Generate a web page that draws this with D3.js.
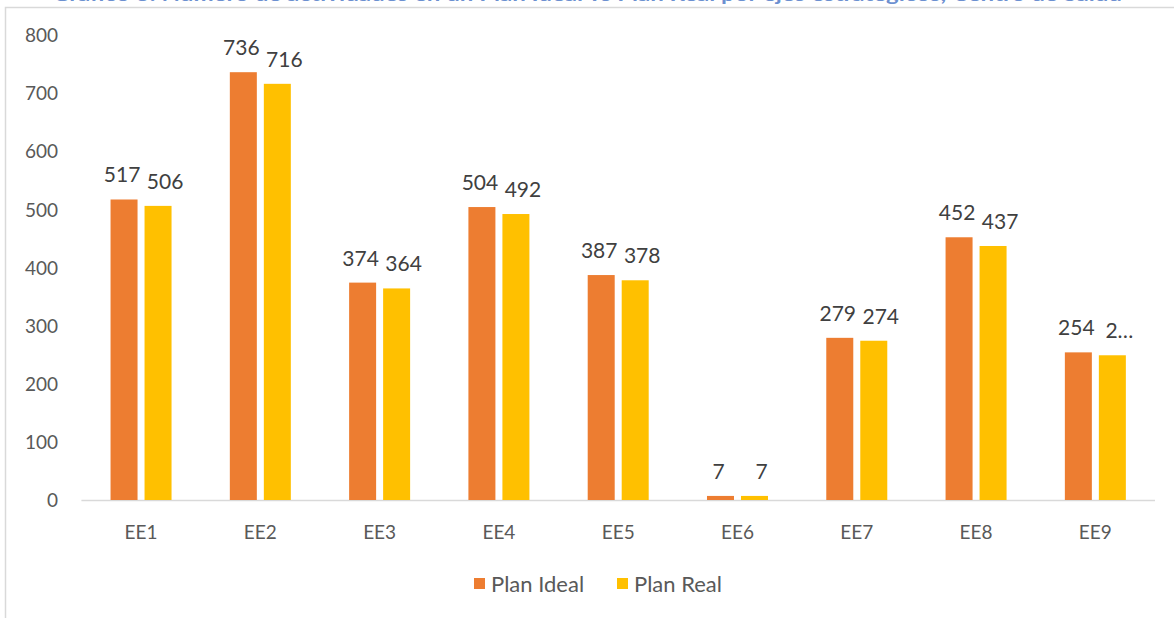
<!DOCTYPE html>
<html>
<head>
<meta charset="utf-8">
<script src="https://cdn.jsdelivr.net/npm/d3@7"></script>
<style>
  html, body { margin: 0; padding: 0; background: #fff; }
  svg { display: block; font-family: Lato, "Open Sans", sans-serif; }
</style>
</head>
<body>
<svg id="chart" width="1174" height="618"></svg>
<script>
// Activities per strategic axis: ideal plan vs real plan
const categories = ["EE1", "EE2", "EE3", "EE4", "EE5", "EE6", "EE7", "EE8", "EE9"];
const planIdeal = [517, 736, 374, 504, 387, 7, 279, 452, 254];
const planReal  = [506, 716, 364, 492, 378, 7, 274, 437, 249];
const seriesNames = ["Plan Ideal", "Plan Real"];
const yTicks = [0, 100, 200, 300, 400, 500, 600, 700, 800];
const titleText = "Gráfico 3: Número de actividades en un Plan Ideal vs Plan Real por ejes estratégicos, Centro de Salud";

const colors = ["#ED7D31", "#FFC000"];
const series = [planIdeal, planReal];

const svg = d3.select("#chart");

// title strip (sits mostly above the top edge)
svg.append("text")
  .attr("x", 52).attr("y", 1)
  .attr("fill", "#4472C4")
  .attr("fill-opacity", 0.8)
  .attr("font-weight", "bold")
  .attr("font-size", 19)
  .attr("textLength", 1070)
  .attr("lengthAdjust", "spacingAndGlyphs")
  .text(titleText);

// chart area border
svg.append("rect")
  .attr("x", 5.5).attr("y", 7.5)
  .attr("width", 1300).attr("height", 800)
  .attr("fill", "none")
  .attr("stroke", "#d9d9d9")
  .attr("stroke-width", 1.5);

const plot = { left: 81.4, right: 1155, top: 35, bottom: 500 };

const x = d3.scaleBand()
  .domain(categories)
  .range([plot.left, plot.right])
  .paddingInner(0).paddingOuter(0);

const barW = 27, barGap = 7;
const y = d3.scaleLinear().domain([0, 800]).range([plot.bottom, plot.top]);

// y axis labels
const yAxis = d3.axisLeft(y).tickValues(yTicks).tickSize(0).tickPadding(0);
const gy = svg.append("g").attr("transform", "translate(58,0)").call(yAxis);
gy.select(".domain").remove();
gy.selectAll("text")
  .attr("fill", "#595959")
  .attr("font-size", 19)
  .attr("font-family", "Lato, sans-serif")
  .attr("dy", "0.35em");

// baseline
svg.append("line")
  .attr("x1", plot.left).attr("x2", plot.right)
  .attr("y1", y(0) + 0.5).attr("y2", y(0) + 0.5)
  .attr("stroke", "#d9d9d9").attr("stroke-width", 1.5);

// category labels
const xAxis = d3.axisBottom(x).tickSize(0).tickPadding(0);
const gx = svg.append("g").attr("transform", `translate(0,${y(0)})`).call(xAxis);
gx.select(".domain").remove();
gx.selectAll("text")
  .attr("fill", "#595959")
  .attr("font-size", 19)
  .attr("font-family", "Lato, sans-serif")
  .attr("y", 32)
  .attr("dy", "0.35em");

const offset = (s) => s === 0 ? -(barW + barGap / 2) : barGap / 2;

series.forEach((vals, s) => {
  const g = svg.append("g");
  g.selectAll("rect")
    .data(vals)
    .join("rect")
    .attr("x", (d, i) => x(categories[i]) + x.bandwidth() / 2 + offset(s))
    .attr("y", d => y(d))
    .attr("width", barW)
    .attr("height", d => y(0) - y(d))
    .attr("fill", colors[s]);

  g.selectAll("text")
    .data(vals)
    .join("text")
    .attr("x", (d, i) => x(categories[i]) + x.bandwidth() / 2 + offset(s) + barW / 2 + (s === 0 ? -2 : 7))
    .attr("y", d => y(d) - 17)
    .attr("text-anchor", "middle")
    .attr("fill", "#404040")
    .attr("font-size", 21)
    .text((d, i) => (s === 1 && i === vals.length - 1) ? String(d)[0] + "…" : d);
});

// legend
const legend = svg.append("g");
const legendX = [474, 617];
seriesNames.forEach((name, i) => {
  legend.append("rect")
    .attr("x", legendX[i]).attr("y", 578)
    .attr("width", 11).attr("height", 11)
    .attr("fill", colors[i]);
  legend.append("text")
    .attr("x", legendX[i] + 17).attr("y", 584)
    .attr("dy", "0.35em")
    .attr("fill", "#595959")
    .attr("font-size", 22)
    .text(name);
});
</script>
</body>
</html>
